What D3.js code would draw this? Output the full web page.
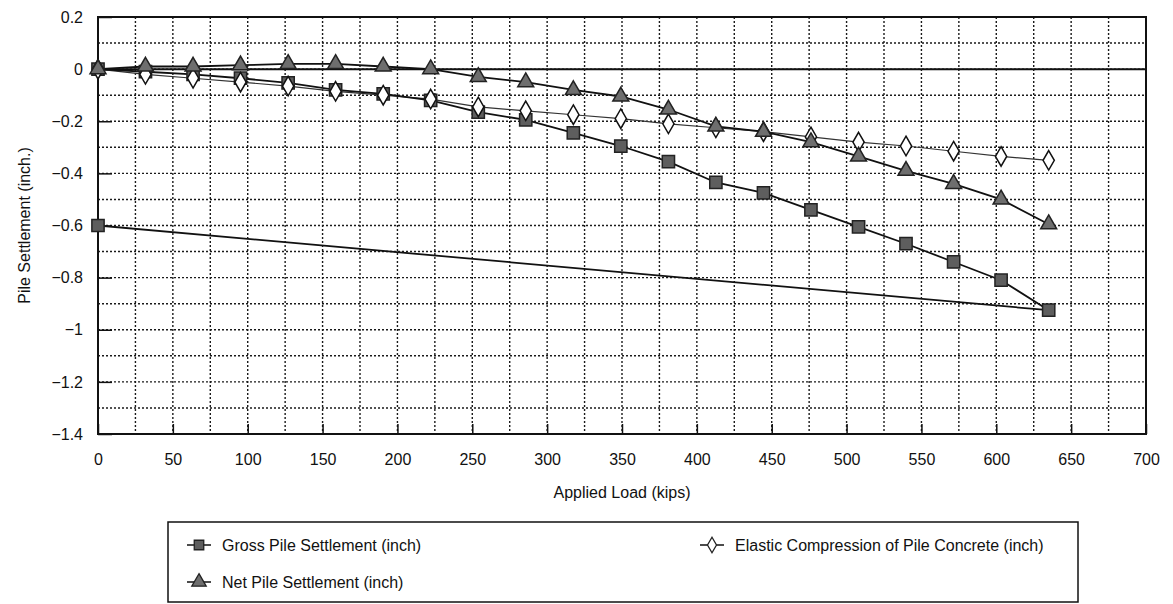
<!DOCTYPE html>
<html>
<head>
<meta charset="utf-8">
<script src="https://cdn.jsdelivr.net/npm/d3@7"></script>
<style>
  body { margin: 0; background: #fff; }
  text { font-family: "Liberation Sans", Arial, sans-serif; fill: #111; }
</style>
</head>
<body>
<svg id="chart" width="1173" height="604"></svg>
<script>
var width = 1173;
var height = 604;

// Applied load steps (kips)
var loads = [0, 31.7, 63.5, 95.2, 127, 158.7, 190.5, 222.2, 254, 285.7, 317.5,
  349.2, 381, 412.7, 444.5, 476.2, 508, 539.7, 571.5, 603.2, 635];

// Gross settlement, last point is the rebound after unloading
var grossLoads = loads.concat([0]);
var grossSettlement = [0, -0.01, -0.02, -0.035, -0.053, -0.08, -0.095, -0.12, -0.165, -0.195, -0.245,
  -0.295, -0.355, -0.435, -0.475, -0.54, -0.605, -0.67, -0.74, -0.81, -0.925, -0.6];

var elasticCompression = [0, -0.02, -0.035, -0.05, -0.065, -0.085, -0.1, -0.115, -0.145, -0.16, -0.175,
  -0.19, -0.21, -0.225, -0.24, -0.26, -0.28, -0.295, -0.315, -0.335, -0.35];

var netSettlement = [0, 0.01, 0.01, 0.015, 0.02, 0.02, 0.01, 0, -0.03, -0.05, -0.08,
  -0.105, -0.155, -0.22, -0.24, -0.28, -0.335, -0.39, -0.44, -0.5, -0.595];

var xTicks = d3.range(0, 701, 50);
var yTicks = [0.2, 0, -0.2, -0.4, -0.6, -0.8, -1, -1.2, -1.4];

var svg = d3.select("#chart");

var margin = {left: 98, top: 17, right: 1146, bottom: 434};

var x = d3.scaleLinear().domain([0, 700]).range([margin.left, margin.right]);
var y = d3.scaleLinear().domain([0.2, -1.4]).range([margin.top, margin.bottom]);

// dotted grid
var grid = svg.append("g");
grid.selectAll(".vg")
  .data(d3.range(25, 700, 25))
  .enter().append("line")
  .attr("x1", d => x(d)).attr("x2", d => x(d))
  .attr("y1", margin.top).attr("y2", margin.bottom)
  .attr("stroke", "#1a1a1a").attr("stroke-width", 1.4)
  .attr("stroke-dasharray", "2,2");
grid.selectAll(".hg")
  .data(d3.range(-13, 2).map(d => d / 10))
  .enter().append("line")
  .attr("x1", margin.left).attr("x2", margin.right)
  .attr("y1", d => y(d)).attr("y2", d => y(d))
  .attr("stroke", "#1a1a1a").attr("stroke-width", 1.4)
  .attr("stroke-dasharray", "2,2");

// zero line
svg.append("line")
  .attr("x1", margin.left).attr("x2", margin.right)
  .attr("y1", y(0)).attr("y2", y(0))
  .attr("stroke", "#111").attr("stroke-width", 2);

var fontCss = "Liberation Sans, Arial, sans-serif";

// axes
var xAxis = d3.axisBottom(x).tickValues(xTicks).tickSize(-10).tickPadding(20);
svg.append("g")
  .attr("transform", "translate(0," + margin.bottom + ")")
  .call(xAxis)
  .call(g => g.select(".domain").remove())
  .call(g => g.selectAll("line").attr("stroke", "#111").attr("stroke-width", 1.5))
  .call(g => g.selectAll("text").attr("font-size", "16px").style("font-family", fontCss).attr("fill", "#111"));

var yAxis = d3.axisLeft(y).tickValues(yTicks).tickSize(-14).tickPadding(15)
  .tickFormat(d => d3.format("")(Math.round(d * 10) / 10));
svg.append("g")
  .attr("transform", "translate(" + margin.left + ",0)")
  .call(yAxis)
  .call(g => g.select(".domain").remove())
  .call(g => g.selectAll("line").attr("stroke", "#111").attr("stroke-width", 1.5))
  .call(g => g.selectAll("text").attr("font-size", "16px").style("font-family", fontCss).attr("fill", "#111"));

// plot frame
svg.append("rect")
  .attr("x", margin.left).attr("y", margin.top)
  .attr("width", margin.right - margin.left).attr("height", margin.bottom - margin.top)
  .attr("fill", "none").attr("stroke", "#111").attr("stroke-width", 2);

// axis titles
svg.append("text")
  .attr("x", (margin.left + margin.right) / 2).attr("y", 498)
  .attr("text-anchor", "middle").attr("font-size", "16px")
  .text("Applied Load (kips)");
svg.append("text")
  .attr("transform", "translate(30," + (margin.top + margin.bottom) / 2 + ") rotate(-90)")
  .attr("text-anchor", "middle").attr("font-size", "16px")
  .text("Pile Settlement (inch.)");

var line = d3.line().x(d => x(d[0])).y(d => y(d[1]));

var grossData = grossLoads.map((d, i) => [d, grossSettlement[i]]);
var elasticData = loads.map((d, i) => [d, elasticCompression[i]]);
var netData = loads.map((d, i) => [d, netSettlement[i]]);

svg.append("path").datum(elasticData).attr("d", line)
  .attr("fill", "none").attr("stroke", "#333").attr("stroke-width", 1.2);
svg.append("path").datum(grossData).attr("d", line)
  .attr("fill", "none").attr("stroke", "#111").attr("stroke-width", 1.8);
svg.append("path").datum(netData).attr("d", line)
  .attr("fill", "none").attr("stroke", "#111").attr("stroke-width", 1.8);

var sq = d3.symbol().type(d3.symbolSquare).size(150);
var tri = d3.symbol().type(d3.symbolTriangle).size(110);
var dia = d3.symbol().type(d3.symbolDiamond).size(110);

function drawMarkers(data, sym, fill, stroke) {
  svg.append("g").selectAll("path")
    .data(data).enter().append("path")
    .attr("d", sym)
    .attr("transform", d => "translate(" + x(d[0]) + "," + y(d[1]) + ")")
    .attr("fill", fill).attr("stroke", stroke).attr("stroke-width", 1.5);
}
drawMarkers(grossData, sq, "#5e5e5e", "#222");
drawMarkers(elasticData, dia, "#fff", "#111");
drawMarkers(netData, tri, "#6e6e6e", "#222");

// legend
var legend = svg.append("g");
legend.append("rect")
  .attr("x", 168).attr("y", 522).attr("width", 910).attr("height", 80)
  .attr("fill", "#fff").attr("stroke", "#111").attr("stroke-width", 1.5);

var legendItems = [
  {label: "Gross Pile Settlement (inch)", sym: sq, fill: "#5e5e5e", lx: 199, ly: 545},
  {label: "Elastic Compression of Pile Concrete (inch)", sym: dia, fill: "#fff", lx: 712, ly: 545},
  {label: "Net Pile Settlement (inch)", sym: tri, fill: "#6e6e6e", lx: 199, ly: 582}
];
legendItems.forEach(function (it) {
  legend.append("line")
    .attr("x1", it.lx - 12).attr("x2", it.lx + 12)
    .attr("y1", it.ly).attr("y2", it.ly)
    .attr("stroke", "#111").attr("stroke-width", 1.5);
  legend.append("path")
    .attr("d", it.sym.size(it.sym === dia ? 70 : 90)())
    .attr("transform", "translate(" + it.lx + "," + it.ly + ")")
    .attr("fill", it.fill).attr("stroke", "#222").attr("stroke-width", 1.3);
  legend.append("text")
    .attr("x", it.lx + 23).attr("y", it.ly + 6)
    .attr("font-size", "16px")
    .text(it.label);
});
</script>
</body>
</html>
